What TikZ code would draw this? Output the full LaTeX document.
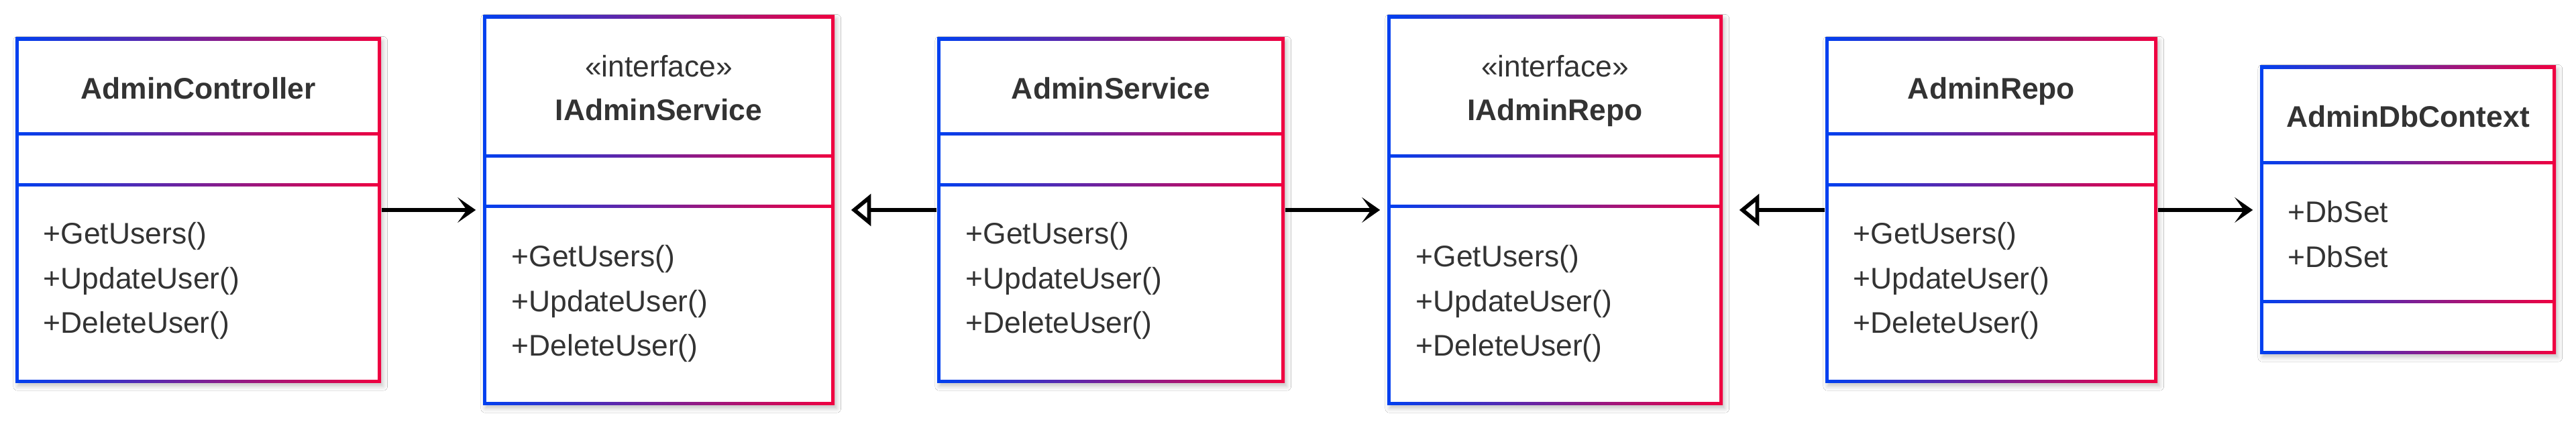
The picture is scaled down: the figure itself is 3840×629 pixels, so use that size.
\documentclass[tikz,border=0pt]{standalone}
\usepackage{fontspec}
\setmainfont{Liberation Sans}
\usetikzlibrary{arrows.meta,fit,shadows.blur}
\definecolor{cb}{RGB}{0,64,240}
\definecolor{cr}{RGB}{240,0,64}
\definecolor{tx}{RGB}{51,51,51}
\newcommand\umlframe[7]{%
  \fill[white, blur shadow={shadow xshift=0.8pt, shadow yshift=-1.2pt, shadow blur radius=1.6pt, shadow opacity=22}] (#2,#4) rectangle (#3,#5);
  \shade[left color=cb, right color=cr] (#2,#4) rectangle (#3,#5);
  \fill[white] (#2+5,#4+5) rectangle (#3-5,#6-2.5);
  \fill[white] (#2+5,#6+2.5) rectangle (#3-5,#7-2.5);
  \fill[white] (#2+5,#7+2.5) rectangle (#3-5,#5-5);
  \node[fit={(#2,#4)(#3,#5)}, inner sep=0pt] (#1) {};
}
\tikzset{
  txt/.style={inner sep=0pt, text=tx, anchor=base west, font=\fontsize{11.1pt}{13pt}\selectfont},
  ttl/.style={inner sep=0pt, text=tx, anchor=base, font=\fontsize{11.1pt}{13pt}\selectfont\bfseries},
  ster/.style={inner sep=0pt, text=tx, anchor=base, font=\fontsize{11.1pt}{13pt}\selectfont},
  assoc/.style={line width=1.45pt, black, -{Stealth[length=6.75pt, width=9.4pt, inset=3.4pt]}, shorten >=2.5pt},
  realz/.style={line width=1.45pt, black, -{Triangle[open, length=7.4pt, width=11.8pt, fill=white]}, shorten >=6pt},
}
\begin{document}
\begin{tikzpicture}[x=0.25pt, y=-0.25pt]
\useasboundingbox (0,0) rectangle (3840,629);
\fill[white] (0,0) rectangle (3840,629);

% boxes
\umlframe{b1}{23}{568}{56}{571}{200}{276}
\umlframe{b2}{720}{1244}{23}{604}{233}{308}
\umlframe{b3}{1397}{1915}{56}{571}{200}{276}
\umlframe{b4}{2068}{2568}{23}{604}{233}{308}
\umlframe{b5}{2721}{3216}{56}{571}{200}{276}
\umlframe{b6}{3369}{3810}{98}{528}{243}{450}

% AdminController
\node[ttl] (t1) at (295.5,148) {AdminController};
\node[txt] (m11) at (64,364) {+GetUsers()};
\node[txt] (m12) at (64,431) {+UpdateUser()};
\node[txt] (m13) at (64,497) {+DeleteUser()};

% IAdminService
\node[ster] (s2) at (982,115) {«interface»};
\node[ttl] (t2) at (982,180) {IAdminService};
\node[txt] (m21) at (762,398) {+GetUsers()};
\node[txt] (m22) at (762,465) {+UpdateUser()};
\node[txt] (m23) at (762,531) {+DeleteUser()};

% AdminService
\node[ttl] (t3) at (1656,148) {AdminService};
\node[txt] (m31) at (1439,364) {+GetUsers()};
\node[txt] (m32) at (1439,431) {+UpdateUser()};
\node[txt] (m33) at (1439,497) {+DeleteUser()};

% IAdminRepo
\node[ster] (s4) at (2318,115) {«interface»};
\node[ttl] (t4) at (2318,180) {IAdminRepo};
\node[txt] (m41) at (2110,398) {+GetUsers()};
\node[txt] (m42) at (2110,465) {+UpdateUser()};
\node[txt] (m43) at (2110,531) {+DeleteUser()};

% AdminRepo
\node[ttl] (t5) at (2968.5,148) {AdminRepo};
\node[txt] (m51) at (2762,364) {+GetUsers()};
\node[txt] (m52) at (2762,431) {+UpdateUser()};
\node[txt] (m53) at (2762,497) {+DeleteUser()};

% AdminDbContext
\node[ttl] (t6) at (3589.5,190) {AdminDbContext};
\node[txt] (a61) at (3410,332) {+DbSet};
\node[txt] (a62) at (3410,399) {+DbSet};

% connectors
\coordinate (ay) at (0,313);
\draw[assoc] (b1.east |- ay) -- (b2.west |- ay);
\draw[realz] (b3.west |- ay) -- (b2.east |- ay);
\draw[assoc] (b3.east |- ay) -- (b4.west |- ay);
\draw[realz] (b5.west |- ay) -- (b4.east |- ay);
\draw[assoc] (b5.east |- ay) -- (b6.west |- ay);
\end{tikzpicture}
\end{document}
